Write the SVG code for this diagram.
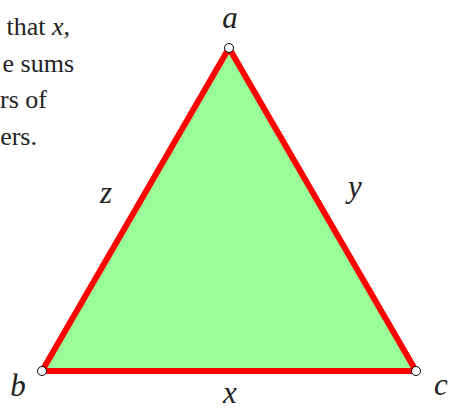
<svg xmlns="http://www.w3.org/2000/svg" width="451" height="410" viewBox="0 0 451 410">
<style>
.p{font-size:26px;fill:#222;text-anchor:end}
.l{font-style:italic;font-size:31px;fill:#222;text-anchor:middle}
.v{fill:#fff;stroke:#000;stroke-width:1}
</style>
<g id="paragraph" font-family="'Liberation Serif', 'Times New Roman', serif">
<text class="p" x="70" y="35">that <tspan font-style="italic">x</tspan>,</text>
<text class="p" x="74" y="72">e sums</text>
<text class="p" x="47" y="108">rs of</text>
<text class="p" x="37" y="145">ers.</text>
</g>
<g id="connectors">
<polygon id="triangle" points="229,48 42,371 416,371" fill="#99fe99" stroke="#ff0000" stroke-width="6" stroke-linejoin="round"/>
</g>
<g font-family="'Liberation Serif', 'Times New Roman', serif">
<g id="node-a"><circle class="v" cx="229" cy="48" r="4.5"/><text class="l" x="230" y="28">a</text></g>
<g id="node-b"><circle class="v" cx="42" cy="371" r="4.5"/><text class="l" x="18" y="396">b</text></g>
<g id="node-c"><circle class="v" cx="416" cy="371" r="4.5"/><text class="l" x="441" y="395">c</text></g>
<g id="label-z"><text class="l" x="106" y="203">z</text></g>
<g id="label-y"><text class="l" x="355" y="197">y</text></g>
<g id="label-x"><text class="l" x="230" y="403">x</text></g>
</g>
</svg>
